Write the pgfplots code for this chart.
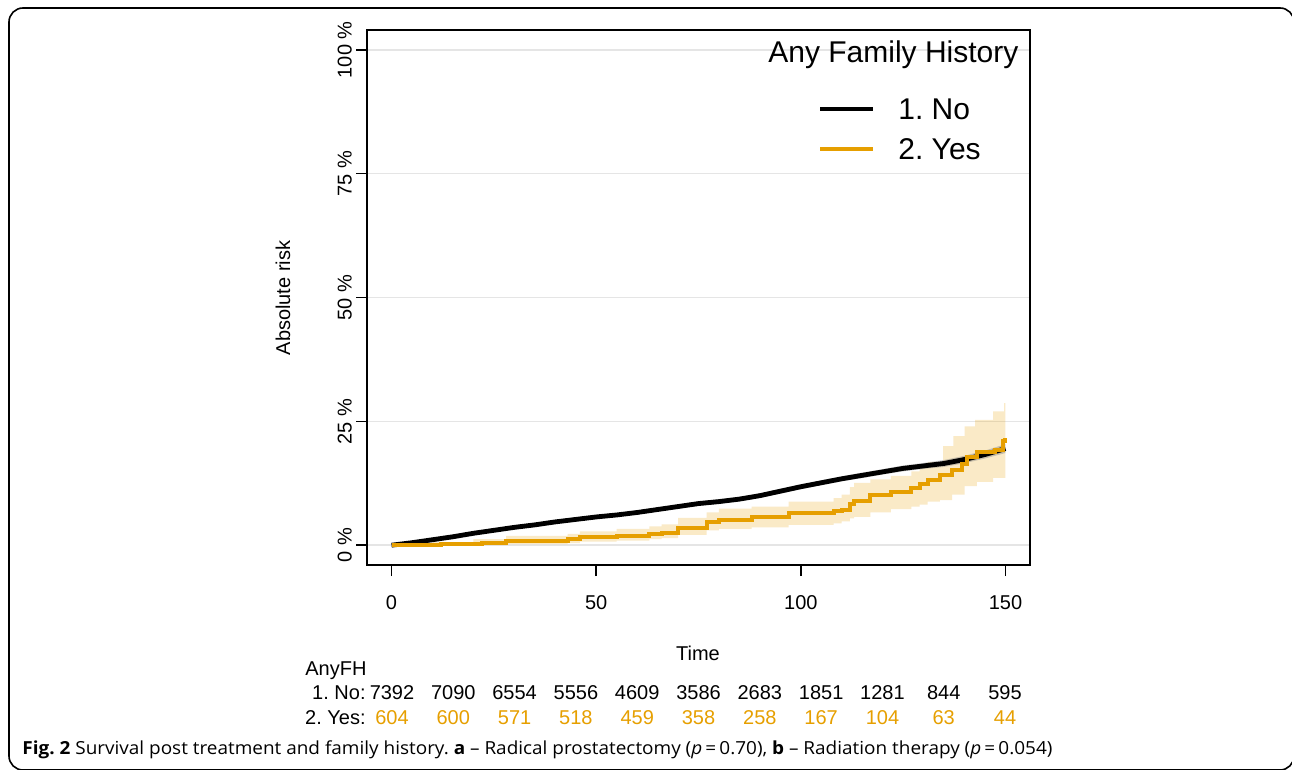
\documentclass[border=0pt]{standalone}
\usepackage{pgfplots}
\pgfplotsset{compat=1.18}
\usepackage{fontspec}
\setmainfont{Liberation Sans}
\newfontfamily\capfont{Open Sans}
\definecolor{fhorange}{HTML}{E69F00}
\definecolor{gridgray}{HTML}{E5E5E5}
\frenchspacing
\begin{document}
\begin{tikzpicture}
\useasboundingbox (0,0) rectangle (646pt,-385pt);
\begin{scope}
\clip (0,0) rectangle (646pt,-385pt);
\begin{scope}[x=0.5pt,y=-0.5pt]
\draw[line width=0.8pt, rounded corners=7pt] (9,8) rectangle (1294,770);
\end{scope}
\end{scope}
\begin{axis}[
  at={(183.5pt,-282.5pt)}, anchor=south west,
  scale only axis, width=331.5pt, height=267.5pt,
  xmin=-6, xmax=156, ymin=-4, ymax=104,
  axis line style={line width=0.7pt},
  xtick={0,50,100,150}, xticklabels={0,50,100,150},
  ytick={0,25,50,75,100}, yticklabels={0 \%,25 \%,50 \%,75 \%,100 \%},
  tick align=outside, major tick length=5.5pt,
  tick style={line width=0.7pt, black},
  xtick pos=bottom, ytick pos=left,
  ymajorgrids, grid style={gridgray, line width=0.7pt},
  ticklabel style={font=\fontsize{10}{12}\selectfont},
  xticklabel style={yshift=-6pt},
  yticklabel style={rotate=90, anchor=south, xshift=0pt, yshift=-1.5pt},
  clip=false,
]
% orange CI band (step polygon: upper forward, lower back)
\addplot[draw=none, fill=fhorange, fill opacity=0.22, forget plot] coordinates {
(0,0) (10,0) (10,0.6) (20,0.6) (20,1.2) (28,1.2) (28,1.9) (43,1.9) (43,2.3) (46,2.3) (46,2.8) (55,2.8) (55,3.3) (63,3.3) (63,3.8) (66,3.8) (66,4.2) (70,4.2) (70,5.5) (77,5.5) (77,6.6) (80,6.6) (80,7.4) (88,7.4) (88,7.8) (97,7.8) (97,8.8) (108,8.8) (108,9.5) (110,9.5) (110,10.2) (112,10.2) (112,11.7) (113,11.7) (113,12.6) (117,12.6) (117,13.3) (122,13.3) (122,14.0) (127,14.0) (127,14.9) (129,14.9) (129,15.8) (131,15.8) (131,16.8) (134.8,16.8) (134.8,20.0) (137.3,20.0) (137.3,22.0) (140,22.0) (140,24.0) (142.6,24.0) (142.6,25.3) (147,25.3) (147,27.0) (149.7,27.0) (149.7,28.7) (150,28.7)
(150,13.6) (147,13.6) (147,12.8) (143,12.8) (143,11.9) (140,11.9) (140,10.2) (137,10.2) (137,9.1) (134,9.1) (134,8.8) (131,8.8) (131,8.2) (129,8.2) (129,7.8) (127,7.8) (127,7.3) (122,7.3) (122,6.6) (117,6.6) (117,5.7) (113,5.7) (113,5.4) (112,5.4) (112,4.8) (110,4.8) (110,4.4) (108,4.4) (108,4.1) (97,4.1) (97,3.6) (88,3.6) (88,3.3) (80,3.3) (80,3.0) (77,3.0) (77,2.1) (70,2.1) (70,1.4) (66,1.4) (66,1.2) (63,1.2) (63,0.9) (55,0.9) (55,0.7) (46,0.7) (46,0.4) (43,0.4) (43,0.2) (28,0.2) (28,0) (0,0)};
% gray CI band
\addplot[draw=none, fill=gray, fill opacity=0.4, forget plot] coordinates {
(0,0) (5,0.65) (10,1.3) (15,1.95) (20,2.65) (25,3.3) (30,3.9) (35,4.4) (40,5.0) (45,5.55) (50,6.05) (55,6.45) (60,7.0) (65,7.6) (70,8.2) (75,8.85) (80,9.25) (85,9.75) (90,10.45) (95,11.4) (100,12.3) (105,13.1) (110,13.9) (115,14.65) (120,15.35) (125,16.1) (130,16.6) (135,17.2) (140,18.05) (145,19.1) (150,20.4)
(150,18.6) (145,17.5) (140,16.55) (135,15.8) (130,15.4) (125,14.9) (120,14.25) (115,13.55) (110,12.9) (105,12.1) (100,11.3) (95,10.4) (90,9.55) (85,8.85) (80,8.35) (75,7.95) (70,7.4) (65,6.8) (60,6.2) (55,5.75) (50,5.35) (45,4.85) (40,4.4) (35,3.8) (30,3.3) (25,2.7) (20,2.15) (15,1.45) (10,0.9) (5,0.35) (0,0)};
% black line: 1. No
\addplot[black, line width=2.4pt, line join=round] coordinates {
(0,0) (5,0.5) (10,1.1) (15,1.7) (20,2.4) (25,3.0) (30,3.6) (35,4.1) (40,4.7) (45,5.2) (50,5.7) (55,6.1) (60,6.6) (65,7.2) (70,7.8) (75,8.4) (80,8.8) (85,9.3) (90,10.0) (95,10.9) (100,11.8) (105,12.6) (110,13.4) (115,14.1) (120,14.8) (125,15.5) (130,16.0) (135,16.5) (140,17.3) (145,18.3) (150,19.5)};
% orange line: 2. Yes
\addplot[fhorange, line width=2pt, const plot] coordinates {
(0,0) (12,0.17) (22,0.35) (28,0.9) (43,1.2) (46,1.6) (55,1.9) (63,2.3) (66,2.5) (70,3.5) (77,4.6) (80,5.1) (88,5.7) (97,6.5) (108,6.8) (110,7.2) (112,8.3) (113,9.0) (117,10.2) (122,10.8) (127,11.6) (129,12.3) (131,13.1) (134,14.1) (137,15.1) (139.5,16.4) (140.5,17.8) (143,18.9) (147.5,19.3) (149.5,21.0) (150,21.7)};
\end{axis}
\begin{scope}[x=0.5pt,y=-0.5pt, font=\fontsize{10}{12}\selectfont]
% axis labels
\node[rotate=90] at (283,298) {Absolute risk};
\node[anchor=base] at (698,660) {Time};
% legend
\node[anchor=base west, inner sep=0pt, font=\fontsize{15}{18}\selectfont] at (768,63) {Any Family History};
\draw[black, line width=2.2pt] (820,109) -- (873,109);
\draw[fhorange, line width=2pt] (820,149) -- (873,149);
\node[anchor=base west, inner sep=0pt, font=\fontsize{15}{18}\selectfont] at (898,120) {1. No};
\node[anchor=base west, inner sep=0pt, font=\fontsize{15}{18}\selectfont] at (898,160) {2. Yes};
% risk table
\node[anchor=base west, inner sep=0pt] at (305,675) {AnyFH};
\node[anchor=base east, inner sep=0pt] at (366,699) {1. No:};
\node[anchor=base east, inner sep=0pt] at (366,724) {2. Yes:};
\foreach \t/\n in {0/7392,15/7090,30/6554,45/5556,60/4609,75/3586,90/2683,105/1851,120/1281,135/844,150/595}
  \node[anchor=base, inner sep=0pt] at ({392+\t*4.087},699) {\n};
\foreach \t/\n in {0/604,15/600,30/571,45/518,60/459,75/358,90/258,105/167,120/104,135/63,150/44}
  \node[anchor=base, inner sep=0pt, text=fhorange] at ({392+\t*4.087},724) {\n};
% caption
\node[anchor=base west, inner sep=0pt] at (22,754) {\resizebox{515pt}{\height}{\capfont\fontsize{9}{11}\selectfont\textbf{Fig. 2} Survival post treatment and family history. \textbf{a} – Radical prostatectomy (\textit{p}\,=\,0.70), \textbf{b} – Radiation therapy (\textit{p}\,=\,0.054)}};
\end{scope}
\end{tikzpicture}
\end{document}
